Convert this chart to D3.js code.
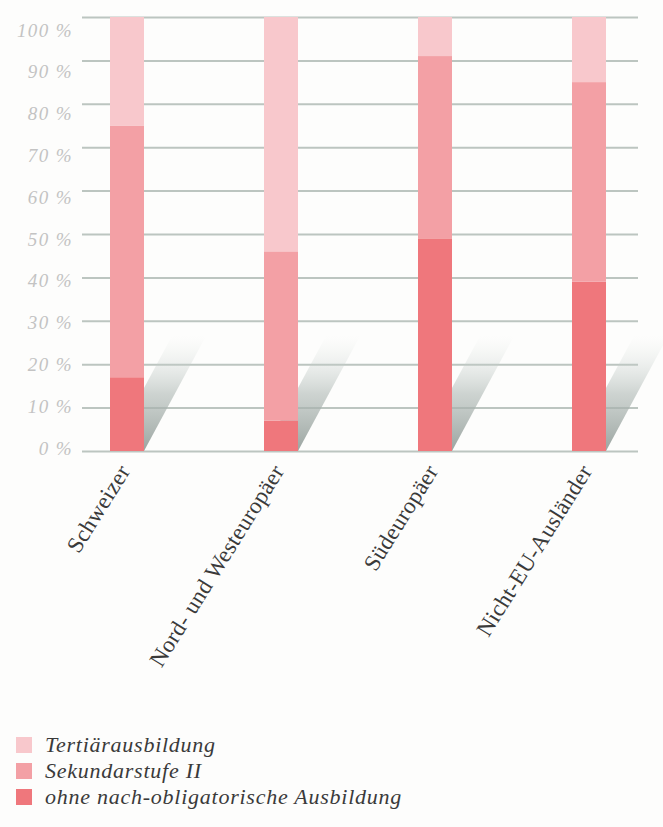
<!DOCTYPE html>
<html>
<head>
<meta charset="utf-8">
<script src="https://cdn.jsdelivr.net/npm/d3@7"></script>
<style>
  body { margin: 0; background: #fdfdfc; }
  svg { display: block; }
</style>
</head>
<body>
<div id="chart"></div>
<script>
// Data
const groups = ['Schweizer', 'Nord- und Westeuropäer', 'Südeuropäer', 'Nicht-EU-Ausländer'];
const ohne = [17, 7, 49, 39];
const sekundar = [58, 39, 42, 46];
const tertiaer = [25, 54, 9, 15];
const seriesNames = ['Tertiärausbildung', 'Sekundarstufe II', 'ohne nach-obligatorische Ausbildung'];
const yTicks = [0, 10, 20, 30, 40, 50, 60, 70, 80, 90, 100];

const width = 663;
const height = 827;
const colors = { ohne: '#ef777c', sekundar: '#f3a0a5', tertiaer: '#f8c8cc' };
const serif = "'Liberation Serif', 'Times New Roman', serif";

const svg = d3.select('#chart').append('svg')
  .attr('width', width)
  .attr('height', height);

// Scales
const x = d3.scalePoint().domain(groups).range([127, 589]);
const y = d3.scaleLinear().domain([0, 100]).range([451, 17]);
// tick labels sit on a slightly tighter scale than the gridlines
const yLabel = d3.scaleLinear().domain([0, 100]).range([448, 30]);
const barWidth = 34;

// gradient for the shadows
const defs = svg.append('defs');
const grad = defs.append('linearGradient')
  .attr('id', 'shadowGrad')
  .attr('x1', 0).attr('y1', 1).attr('x2', 0).attr('y2', 0);
grad.append('stop').attr('offset', '0%').attr('stop-color', '#96a09c').attr('stop-opacity', 0.95);
grad.append('stop').attr('offset', '50%').attr('stop-color', '#aeb8b4').attr('stop-opacity', 0.6);
grad.append('stop').attr('offset', '100%').attr('stop-color', '#dbe2df').attr('stop-opacity', 0);

// Gridlines
svg.append('g')
  .attr('transform', `translate(82, 0)`)
  .call(d3.axisLeft(y).tickValues(yTicks).tickSize(-556).tickFormat(''))
  .call(g => g.select('.domain').remove())
  .call(g => g.selectAll('line').attr('stroke', '#bcc5c0').attr('stroke-width', 2));

// Y labels
svg.append('g')
  .attr('transform', `translate(73, 0)`)
  .call(d3.axisLeft(yLabel).tickValues(yTicks).tickSize(0).tickPadding(0).tickFormat(d => d + ' %'))
  .call(g => g.select('.domain').remove())
  .call(g => g.selectAll('text')
    .attr('font-family', serif)
    .attr('font-style', 'italic')
    .attr('font-size', 19)
    .attr('letter-spacing', 1.4)
    .attr('fill', '#c3c3c3'));

// Shadows
const shadowDx = 62;
const shadowH = 115;
svg.append('g').selectAll('path')
  .data(groups)
  .enter()
  .append('path')
  .attr('d', d => {
    const xl = x(d) - barWidth / 2;
    const xr = x(d) + barWidth / 2;
    const y0 = y(0);
    return `M${xl},${y0} L${xr},${y0} L${xr + shadowDx},${y0 - shadowH} L${xl + shadowDx},${y0 - shadowH} Z`;
  })
  .attr('fill', 'url(#shadowGrad)');

// Stacked bars
const stackData = groups.map((g, i) => ({ group: g, ohne: ohne[i], sekundar: sekundar[i], tertiaer: tertiaer[i] }));
const stack = d3.stack().keys(['ohne', 'sekundar', 'tertiaer'])(stackData);

svg.append('g').selectAll('g')
  .data(stack)
  .enter()
  .append('g')
  .attr('fill', s => colors[s.key])
  .selectAll('rect')
  .data(s => s)
  .enter()
  .append('rect')
  .attr('x', d => x(d.data.group) - barWidth / 2)
  .attr('y', d => y(d[1]))
  .attr('width', barWidth)
  .attr('height', d => y(d[0]) - y(d[1]));

// X labels
svg.append('g').selectAll('text')
  .data(groups)
  .enter()
  .append('text')
  .attr('transform', d => `translate(${x(d) + 4}, 471) rotate(-58)`)
  .attr('text-anchor', 'end')
  .attr('font-family', serif)
  .attr('font-size', 23)
  .attr('letter-spacing', 0.3)
  .attr('fill', '#3a3a3a')
  .text(d => d);

// Legend
const legendColors = [colors.tertiaer, colors.sekundar, colors.ohne];
const legend = svg.append('g').selectAll('g')
  .data(seriesNames)
  .enter()
  .append('g')
  .attr('transform', (d, i) => `translate(16, ${737 + i * 26})`);

legend.append('rect')
  .attr('width', 16)
  .attr('height', 16)
  .attr('fill', (d, i) => legendColors[i]);

legend.append('text')
  .attr('x', 29)
  .attr('y', 15)
  .attr('font-family', serif)
  .attr('font-style', 'italic')
  .attr('font-size', 22)
  .attr('letter-spacing', 0.75)
  .attr('fill', '#3a3a3a')
  .text(d => d);
</script>
</body>
</html>
